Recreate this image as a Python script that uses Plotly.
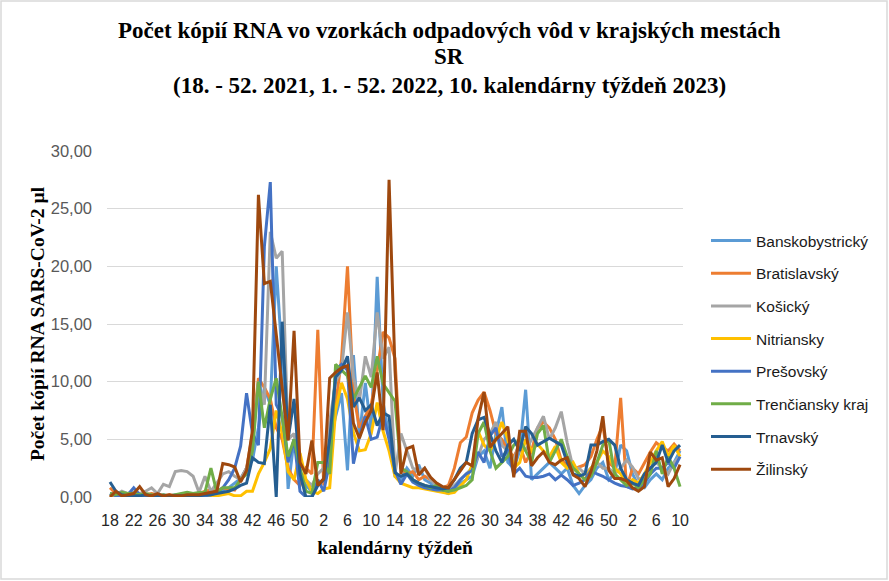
import plotly.graph_objects as go

weeks = list(range(18, 53)) + list(range(1, 53)) + list(range(1, 11))

banskobystricky = [0.3, 0.2, 0.1, 0.2, 0.3, 0.2, 0.1, 0.2, 0.1, 0.2,
                   0.1, 0.2, 0.2, 0.1, 0.2, 0.3, 0.2, 0.3, 0.4, 0.6,
                   0.8, 1.2, 1.6, 2.5, 3.2, 6.0, 9.5, 8.0, 20.0, 12.0,
                   0.7, 5.0, 2.0, 1.0, 0.5, 1.2, 1.5, 4.5, 7.0, 9.0,
                   2.3, 12.3, 5.2, 9.9, 5.7, 19.1, 8.2, 5.3, 1.8, 1.5,
                   2.5, 1.8, 2.8, 1.5, 1.2, 0.6, 0.5, 0.3, 0.8, 1.2,
                   1.5, 1.8, 3.5, 4.0, 2.5, 5.5, 7.8, 3.0, 2.5, 4.0,
                   9.3, 1.5, 2.0, 2.5, 3.0, 2.5, 2.0, 2.5, 1.0, 0.3,
                   1.0, 1.5, 2.5, 3.0, 1.5, 2.0, 4.5, 4.0, 2.0, 1.0,
                   0.8, 1.5, 2.0, 1.5, 2.5, 3.0, 4.0]
bratislavsky = [0.8, 0.3, 0.2, 0.3, 0.4, 0.3, 0.2, 0.3, 0.2, 0.1,
                0.2, 0.1, 0.2, 0.3, 0.2, 0.3, 0.5, 0.6, 0.5, 0.8,
                0.7, 0.6, 1.5, 2.5, 5.5, 10.3, 9.5, 8.5, 6.0, 5.0,
                2.5, 1.5, 1.0, 2.5, 2.0, 14.5, 1.0, 3.0, 8.0, 12.0,
                20.0, 9.0, 6.0, 7.0, 8.0, 11.0, 14.3, 13.8, 12.0, 2.5,
                2.0, 2.2, 1.5, 1.8, 1.5, 1.2, 0.8, 1.0, 2.5, 4.7,
                5.2, 7.3, 8.4, 9.1, 7.5, 5.5, 5.0, 4.0, 3.5, 4.5,
                3.0, 4.0, 6.0, 6.5, 6.0, 5.0, 3.2, 2.8, 2.4, 2.6,
                2.8, 3.5, 5.0, 6.2, 3.0, 2.5, 8.6, 0.8, 2.5, 2.0,
                3.0, 3.9, 4.7, 4.3, 4.0, 4.6, 4.0]
kosicky = [0.3, 0.2, 0.5, 0.3, 0.4, 0.3, 0.5, 0.8, 0.3, 1.1,
           0.9, 2.2, 2.3, 2.2, 1.8, 0.4, 1.8, 0.5, 1.2, 2.0,
           2.2, 1.8, 1.5, 2.5, 4.5, 10.0, 8.0, 23.0, 20.7, 21.3,
           5.0, 5.5, 2.0, 1.5, 1.0, 2.0, 2.5, 6.5, 10.0, 11.0,
           16.0, 10.4, 8.3, 12.2, 10.4, 16.0, 12.0, 13.0, 2.0, 5.5,
           4.0, 2.5, 2.2, 2.5, 1.5, 1.0, 0.8, 0.6, 1.0, 1.5,
           2.0, 2.5, 3.5, 5.0, 5.5, 6.5, 4.5, 4.0, 3.0, 5.0,
           4.0, 5.0, 6.0, 7.0, 5.0, 6.0, 7.4, 4.7, 2.5, 2.5,
           2.0, 2.5, 3.0, 2.5, 2.5, 2.0, 2.5, 3.2, 2.6, 1.6,
           1.5, 2.5, 3.0, 2.5, 2.0, 3.0, 3.5]
nitriansky = [0.0, 0.1, 0.0, 0.1, 0.0, 0.1, 0.0, 0.1, 0.0, 0.0,
              0.1, 0.0, 0.1, 0.0, 0.1, 0.1, 0.0, 0.1, 0.1, 0.2,
              0.3, 0.1, 0.1, 0.5, 0.5, 2.0, 3.0, 4.2, 7.5, 5.5,
              2.2, 1.5, 3.8, 1.5, 0.5, 0.3, 0.7, 0.8, 7.5, 9.9,
              8.5, 5.6, 4.0, 4.1, 5.5, 8.2, 5.7, 4.0, 1.8, 1.2,
              1.0, 0.8, 0.8, 0.7, 0.6, 0.5, 0.4, 0.3, 0.4, 1.0,
              1.5, 2.8, 5.7, 4.5, 4.0, 5.0, 6.5, 5.0, 2.5, 3.0,
              5.0, 4.0, 4.6, 4.0, 3.5, 4.4, 3.0, 2.5, 3.0, 2.0,
              1.5, 2.5, 3.0, 4.0, 3.5, 2.5, 2.0, 1.0, 1.5, 1.2,
              2.0, 3.0, 4.0, 4.8, 3.5, 4.5, 3.5]
presovsky = [0.3, 0.1, 0.1, 0.2, 0.8, 0.2, 0.1, 0.1, 0.2, 0.1,
             0.1, 0.1, 0.0, 0.1, 0.1, 0.1, 0.1, 0.2, 0.4, 0.8,
             1.5, 2.5, 4.4, 9.0, 5.5, 4.5, 21.7, 27.3, 8.0, 7.0,
             3.0, 5.0, 0.5, 0.0, 0.0, 1.5, 0.5, 3.0, 11.0, 11.5,
             11.0, 2.9, 5.2, 7.0, 5.0, 5.2, 7.1, 5.0, 2.3, 1.1,
             2.0, 1.3, 1.0, 0.8, 0.7, 0.6, 0.6, 0.5, 0.8, 1.5,
             2.0, 2.3, 3.9, 3.0, 5.3, 6.0, 3.5, 4.0, 2.0, 2.5,
             1.8, 1.7, 1.7, 1.8, 2.0, 1.5, 1.9, 1.5, 1.0, 1.2,
             1.5, 2.3, 2.0, 1.8, 1.5, 1.2, 1.0, 0.9, 0.7, 0.8,
             1.2, 2.0, 2.5, 2.5, 3.0, 2.5, 3.5]
trenciansky = [0.3, 0.2, 0.4, 0.3, 0.3, 0.2, 0.3, 0.2, 0.1, 0.2,
               0.1, 0.2, 0.3, 0.4, 0.3, 0.4, 0.4, 2.5, 0.4, 0.8,
               0.8, 0.8, 1.5, 2.0, 4.0, 10.0, 6.0, 8.5, 10.3, 7.0,
               3.5, 5.0, 2.5, 0.5, 0.3, 3.0, 3.0, 2.0, 11.5, 11.0,
               10.5, 8.5, 9.5, 10.5, 9.5, 12.2, 9.8, 9.0, 8.3, 2.5,
               2.2, 1.5, 1.2, 1.0, 0.8, 1.0, 0.6, 0.5, 0.6, 0.8,
               1.0, 1.5, 5.5, 6.5, 4.0, 2.5, 3.0, 3.5, 4.5, 5.0,
               4.0, 3.0, 5.5, 6.2, 3.0, 4.0, 5.0, 3.5, 2.5, 2.0,
               1.5, 1.8, 3.0, 4.5, 5.0, 2.0, 1.5, 1.0, 1.2, 0.8,
               1.5, 2.0, 4.0, 2.0, 3.5, 2.5, 0.9]
trnavsky = [1.3, 0.5, 0.2, 0.1, 0.1, 0.1, 0.2, 0.1, 0.1, 0.1,
            0.1, 0.1, 0.1, 0.1, 0.1, 0.1, 0.2, 0.2, 0.3, 0.4,
            0.5, 0.7, 1.0, 1.2, 3.4, 3.0, 2.9, 8.0, 0.0, 15.2,
            5.0, 8.5, 2.0, 0.0, 0.0, 1.0, 1.5, 5.0, 10.4, 11.0,
            12.2, 7.8, 8.6, 7.5, 8.0, 6.2, 7.3, 7.0, 2.1, 1.8,
            2.0, 1.5, 1.2, 1.0, 0.9, 0.8, 0.7, 0.8, 1.5, 2.5,
            3.0, 5.5, 6.7, 6.9, 5.4, 4.0, 3.0, 4.5, 5.0, 4.0,
            6.1, 5.5, 4.5, 4.8, 5.1, 4.8, 4.5, 3.0, 2.0, 1.8,
            2.0, 4.5, 4.5, 4.8, 5.0, 4.5, 2.5, 1.5, 1.2, 1.0,
            2.0, 2.5, 3.0, 4.5, 3.0, 4.0, 4.5]
zilinsky = [0.0, 0.5, 0.1, 0.2, 0.3, 0.9, 0.2, 0.1, 0.3, 0.1,
            0.2, 0.1, 0.1, 0.2, 0.2, 0.2, 0.3, 0.4, 0.5, 2.9,
            2.8, 2.6, 1.3, 2.3, 5.8, 26.2, 18.5, 18.7, 14.0, 9.5,
            4.9, 14.4, 3.0, 2.0, 4.9, 1.0, 1.6, 10.3, 10.8, 11.2,
            11.4, 6.4, 5.1, 6.5, 7.5, 10.8, 5.8, 27.5, 11.0, 2.0,
            4.2, 4.4, 1.9, 2.5, 1.7, 1.2, 0.9, 0.8, 1.5, 2.2,
            3.0, 2.7, 6.8, 9.1, 4.3, 5.0, 5.5, 6.1, 1.7, 5.7,
            5.7, 2.7, 3.4, 3.9, 3.0, 2.8, 3.2, 3.4, 1.9, 1.6,
            0.9, 2.2, 4.0, 7.0, 2.3, 1.6, 1.6, 1.4, 0.8, 0.5,
            0.9, 3.9, 3.2, 3.4, 0.9, 1.6, 2.8]

series_names = ["Banskobystrický", "Bratislavský", "Košický", "Nitriansky",
                "Prešovský", "Trenčiansky kraj", "Trnavský", "Žilinský"]
series_values = [banskobystricky, bratislavsky, kosicky, nitriansky,
                 presovsky, trenciansky, trnavsky, zilinsky]
colors = ["#5B9BD5", "#ED7D31", "#A5A5A5", "#FFC000",
          "#4472C4", "#70AD47", "#255E91", "#9E480E"]

title_lines = ["Počet kópií RNA vo vzorkách odpadových vôd v krajských mestách",
               "SR",
               "(18. - 52. 2021, 1. - 52. 2022, 10. kalendárny týždeň 2023)"]

x_idx = list(range(len(weeks)))
tick_positions = x_idx[::4]
tick_labels = [str(weeks[i]) for i in tick_positions]
y_ticks = [0, 5, 10, 15, 20, 25, 30]

fig = go.Figure()
for k, (name, vals, col) in enumerate(zip(series_names, series_values, colors)):
    fig.add_trace(go.Scatter(x=x_idx, y=vals, mode="lines", name=name,
                             legendgroup=str(k),
                             line=dict(color=col, width=3)))

W, H = 889, 581
L, R, T, B = 107, 206, 151, 84
pw, ph = W - L - R, H - T - B

fig.update_layout(
    width=W, height=H,
    margin=dict(l=L, r=R, t=T, b=B),
    paper_bgcolor="white", plot_bgcolor="white",
    separators=", ",
    legend=dict(x=(706 - L) / pw, xanchor="left", y=(497 - 224) / ph, yanchor="top",
                font=dict(family="Liberation Sans", size=15.5, color="#1a1a1a"),
                tracegroupgap=9.5, traceorder="grouped", itemwidth=40,
                bgcolor="rgba(0,0,0,0)"),
    xaxis=dict(range=[-0.5, len(weeks) - 0.5], tickmode="array",
               tickvals=tick_positions, ticktext=tick_labels,
               showgrid=False, zeroline=False, showline=False, ticks="",
               ticklabelstandoff=12,
               tickfont=dict(family="Liberation Sans", size=16, color="#262626"),
               title=dict(text="kalendárny týždeň", standoff=12,
                          font=dict(family="Liberation Serif", size=19.5, color="black", weight="bold"))),
    yaxis=dict(range=[0, 30], tickmode="array", tickvals=y_ticks,
               tickformat=".2f", showgrid=True, gridcolor="#D9D9D9", gridwidth=1,
               zeroline=False, showline=False, ticks="", ticklabelstandoff=14,
               tickfont=dict(family="Liberation Sans", size=16.5, color="#595959"),
               title=dict(text="Počet kópií RNA SARS-CoV-2 µl", standoff=0,
                          font=dict(family="Liberation Serif", size=19.5, color="black", weight="bold"))),
)

for line_text, ypx in zip(title_lines, [30, 57, 85]):
    fig.add_annotation(text="<b>" + line_text + "</b>", xref="paper", yref="paper",
                       x=(449 - L) / pw, y=(497 - ypx) / ph, xanchor="center", yanchor="middle",
                       showarrow=False,
                       font=dict(family="Liberation Serif", size=23, color="black"))

fig.add_shape(type="rect", xref="paper", yref="paper",
              x0=(1 - L) / pw, x1=(W - 2 - L) / pw,
              y0=-(H - 2 - T - ph) / ph, y1=1 + (T - 1) / ph,
              line=dict(color="#D9D9D9", width=1.5), fillcolor="rgba(0,0,0,0)", layer="below")

fig.write_html("out.html")
